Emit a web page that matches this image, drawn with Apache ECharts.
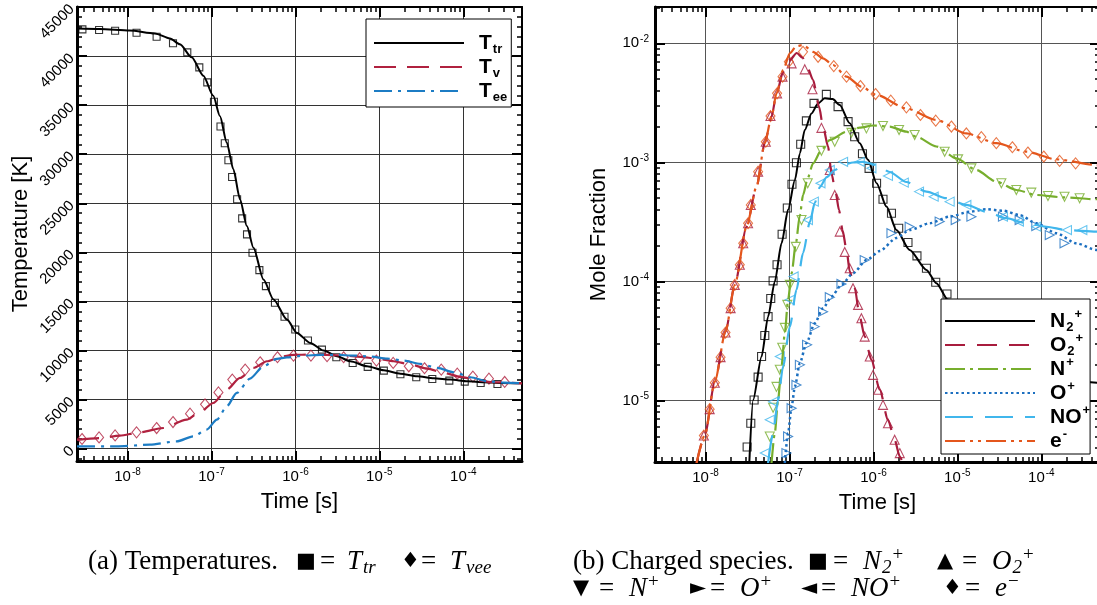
<!DOCTYPE html>
<html><head><meta charset="utf-8">
<script src="https://cdn.jsdelivr.net/npm/echarts@6/dist/echarts.min.js"></script>
<style>html,body{margin:0;padding:0;background:#fff;overflow:hidden}#c{width:1097px;height:605px}</style>
</head><body><div id="c"></div>
<script>
// ---------- data: left panel (temperatures) [time s, K] ----------
const timeRange = [2.5e-9, 5e-4];
const tempRange = [-1250, 45000];
const fracRange = [3.04e-6, 2.02e-2];
const timeTicks = [1e-8, 1e-7, 1e-6, 1e-5, 1e-4];
const tempTicks = [0, 5000, 10000, 15000, 20000, 25000, 30000, 35000, 40000, 45000];
const fracTicks = [1e-5, 1e-4, 1e-3, 1e-2];

const Ttr_line = [[2.5e-9,42800],[4.67e-9,42750],[1.06e-8,42600],[2.12e-8,42300],[3.20e-8,41800],[4.21e-8,41200],[5.81e-8,39870],[8.00e-8,38000],[1.05e-7,35950],[1.26e-7,33900],[1.52e-7,31190],[1.82e-7,28470],[2.19e-7,25400],[2.64e-7,22680],[3.16e-7,20480],[4.16e-7,17240],[5.48e-7,15200],[7.93e-7,13160],[1.04e-6,11800],[1.50e-6,10780],[2.17e-6,10000],[3.13e-6,9420],[4.51e-6,8910],[7.14e-6,8400],[1.13e-5,7990],[1.78e-5,7650],[2.82e-5,7380],[4.46e-5,7170],[7.05e-5,7040],[1.12e-4,6870],[1.76e-4,6770],[2.79e-4,6700],[5.0e-4,6660]];
const Tv_line = [[2.5e-9,900],[4.67e-9,1090],[8.09e-9,1330],[1.40e-8,1670],[2.66e-8,2110],[5.06e-8,2960],[7.29e-8,3740],[1.05e-7,4660],[1.52e-7,6020],[2.19e-7,7210],[3.16e-7,8230],[4.57e-7,8910],[6.59e-7,9360],[9.48e-7,9560],[1.50e-6,9590],[2.38e-6,9560],[3.75e-6,9490],[5.94e-6,9360],[9.40e-6,9180],[1.48e-5,8910],[2.35e-5,8570],[3.72e-5,8160],[5.86e-5,7720],[9.29e-5,7320],[1.47e-4,6970],[2.32e-4,6770],[5.0e-4,6660]];
const Tee_line = [[2.5e-9,235],[7.40e-9,235],[1.85e-8,410],[3.85e-8,750],[6.07e-8,1260],[8.77e-8,1940],[1.16e-7,2960],[1.52e-7,4320],[2.00e-7,5680],[2.88e-7,7150],[4.16e-7,8400],[6.01e-7,9150],[7.93e-7,9300],[1.25e-6,9490],[1.98e-6,9560],[3.13e-6,9560],[4.94e-6,9490],[7.82e-6,9390],[1.24e-5,9180],[1.95e-5,8980],[3.09e-5,8640],[4.90e-5,8230],[7.73e-5,7790],[1.22e-4,7280],[1.94e-4,6870],[3.05e-4,6730],[5.0e-4,6660]];
const Ttr_marks = [[2.90e-9,42720],[4.58e-9,42650],[7.11e-9,42580],[1.28e-8,42380],[2.22e-8,41970],[3.48e-8,41300],[5.15e-8,40380],[7.16e-8,38850],[8.91e-8,37320],[1.07e-7,35340],[1.28e-7,32830],[1.44e-7,31120],[1.59e-7,29390],[1.76e-7,27680],[2.02e-7,25410],[2.32e-7,23470],[2.65e-7,21840],[3.08e-7,19970],[3.72e-7,18190],[4.45e-7,16560],[5.70e-7,14870],[7.41e-7,13440],[9.95e-7,12140],[1.41e-6,11020],[2.07e-6,10100],[3.07e-6,9320],[4.81e-6,8740],[7.26e-6,8340],[1.13e-5,7960],[1.78e-5,7580],[2.75e-5,7280],[4.27e-5,7110],[6.81e-5,6940],[1.04e-4,6840],[1.61e-4,6700],[2.55e-4,6600]];
const Tv_marks = [[2.87e-9,990],[4.58e-9,1150],[7.11e-9,1360],[1.28e-8,1670],[2.22e-8,2110],[3.48e-8,2720],[5.55e-8,3570],[8.38e-8,4520],[1.21e-7,5740],[1.77e-7,7040],[2.52e-7,8060],[3.80e-7,8810],[6.11e-7,9320],[9.48e-7,9490],[1.53e-6,9490],[2.38e-6,9420],[3.75e-6,9320],[5.82e-6,9220],[9.23e-6,8980],[1.46e-5,8740],[2.24e-5,8400],[3.45e-5,8200],[5.46e-5,8060],[8.47e-5,7650],[1.30e-4,7350],[2.02e-4,7140],[3.11e-4,6800]];

// ---------- data: right panel (charged species) [time s, mole fraction] ----------
const N2p_line = [[3.32e-8,2.98e-6],[3.69e-8,1.01e-5],[4.65e-8,2.34e-5],[5.56e-8,5.06e-5],[6.68e-8,9.95e-5],[8.04e-8,2.09e-4],[9.62e-8,4.0e-4],[1.16e-7,7.11e-4],[1.33e-7,1.19e-3],[1.52e-7,1.87e-3],[1.83e-7,2.58e-3],[2.19e-7,3.13e-3],[2.63e-7,3.45e-3],[3.27e-7,3.40e-3],[3.97e-7,3.03e-3],[5.22e-7,2.13e-3],[6.87e-7,1.45e-3],[8.63e-7,1.05e-3],[1.09e-6,6.68e-4],[1.43e-6,4.25e-4],[1.88e-6,2.70e-4],[2.70e-6,1.84e-4],[4.28e-6,1.25e-4],[5.62e-6,9.66e-5],[7.73e-6,7.00e-5],[1.84e-5,3.56e-5],[4.20e-5,2.32e-5],[9.55e-5,1.74e-5],[2.17e-4,1.46e-5],[5.0e-4,1.4e-5]];
const O2p_line = [[7.82e-9,2.98e-6],[9.82e-9,5.14e-6],[1.29e-8,1.44e-5],[1.73e-8,3.79e-5],[2.23e-8,9.35e-5],[3.08e-8,2.88e-4],[4.05e-8,6.25e-4],[5.08e-8,1.45e-3],[6.11e-8,2.42e-3],[7.00e-8,3.75e-3],[8.39e-8,5.74e-3],[1.01e-7,7.24e-3],[1.22e-7,8.30e-3],[1.44e-7,7.53e-3],[1.65e-7,6.21e-3],[1.91e-7,4.92e-3],[2.25e-7,2.94e-3],[2.51e-7,2.00e-3],[2.88e-7,1.36e-3],[3.16e-7,8.09e-4],[3.56e-7,5.51e-4],[3.89e-7,3.98e-4],[4.28e-7,2.70e-4],[4.78e-7,1.84e-4],[5.22e-7,1.21e-4],[5.98e-7,8.81e-5],[6.87e-7,5.06e-5],[7.87e-7,3.44e-5],[9.46e-7,2.19e-5],[1.19e-6,1.23e-5],[1.49e-6,6.87e-6],[1.79e-6,4.67e-6],[2.06e-6,3.38e-6],[2.23e-6,2.99e-6]];
const Np_line = [[6.11e-8,2.98e-6],[6.68e-8,5.31e-6],[7.31e-8,1.01e-5],[8.04e-8,1.93e-5],[8.79e-8,3.67e-5],[9.62e-8,7.00e-5],[1.06e-7,1.17e-4],[1.19e-7,2.09e-4],[1.33e-7,3.61e-4],[1.45e-7,5.32e-4],[1.65e-7,7.40e-4],[1.91e-7,9.82e-4],[2.40e-7,1.27e-3],[3.02e-7,1.54e-3],[4.78e-7,1.81e-3],[6.87e-7,1.96e-3],[9.89e-7,2.04e-3],[1.56e-6,2.00e-3],[2.47e-6,1.81e-3],[3.25e-6,1.64e-3],[5.62e-6,1.36e-3],[9.73e-6,1.08e-3],[1.68e-5,8.63e-4],[2.91e-5,6.89e-4],[5.04e-5,5.86e-4],[8.71e-5,5.32e-4],[1.81e-4,5.09e-4],[4.52e-4,4.90e-4],[5.0e-4,4.9e-4]];
const Op_line = [[8.79e-8,2.98e-6],[9.62e-8,5.31e-6],[1.06e-7,8.89e-6],[1.16e-7,1.31e-5],[1.33e-7,2.06e-5],[1.59e-7,3.03e-5],[2.00e-7,4.46e-5],[2.51e-7,5.96e-5],[3.16e-7,7.45e-5],[4.16e-7,9.35e-5],[5.71e-7,1.17e-4],[8.26e-7,1.51e-4],[1.19e-6,1.80e-4],[1.88e-6,2.32e-4],[2.70e-6,2.70e-4],[4.68e-6,3.08e-4],[8.09e-6,3.50e-4],[1.40e-5,3.85e-4],[2.21e-5,4.04e-4],[3.49e-5,3.93e-4],[5.52e-5,3.61e-4],[8.71e-5,3.08e-4],[1.51e-4,2.54e-4],[2.61e-4,2.09e-4],[4.52e-4,1.84e-4],[5.0e-4,1.8e-4]];
const NOp_line = [[5.56e-8,2.98e-6],[6.38e-8,5.31e-6],[7.31e-8,1.01e-5],[8.39e-8,1.93e-5],[1.01e-7,4.17e-5],[1.21e-7,8.49e-5],[1.45e-7,1.73e-4],[1.75e-7,3.16e-4],[2.00e-7,4.56e-4],[2.30e-7,6.21e-4],[2.78e-7,7.53e-4],[3.46e-7,8.63e-4],[4.35e-7,9.51e-4],[5.71e-7,9.98e-4],[7.52e-7,1.01e-3],[1.09e-6,9.51e-4],[1.56e-6,8.30e-4],[2.47e-6,6.84e-4],[4.28e-6,5.68e-4],[7.40e-6,5.00e-4],[1.28e-5,4.39e-4],[2.21e-5,3.85e-4],[3.83e-5,3.40e-4],[6.62e-5,3.08e-4],[1.15e-4,2.88e-4],[1.99e-4,2.70e-4],[4.52e-4,2.62e-4],[5.0e-4,2.6e-4]];
const em_line = [[7.82e-9,2.98e-6],[9.82e-9,5.14e-6],[1.29e-8,1.44e-5],[1.73e-8,3.79e-5],[2.23e-8,9.35e-5],[3.08e-8,2.88e-4],[4.05e-8,6.25e-4],[5.08e-8,1.45e-3],[6.11e-8,2.42e-3],[7.00e-8,3.80e-3],[8.39e-8,5.97e-3],[1.01e-7,8.24e-3],[1.21e-7,9.48e-3],[1.45e-7,9.68e-3],[1.91e-7,8.49e-3],[2.51e-7,7.48e-3],[3.30e-7,6.58e-3],[4.78e-7,5.25e-3],[7.19e-7,4.33e-3],[1.09e-6,3.68e-3],[2.47e-6,2.84e-3],[5.62e-6,2.27e-3],[1.28e-5,1.75e-3],[2.91e-5,1.45e-3],[6.62e-5,1.23e-3],[1.51e-4,1.06e-3],[4.52e-4,9.5e-4],[5.0e-4,9.4e-4]];

const N2p_marks = [[3.13e-8,4.06e-6],[3.46e-8,6.44e-6],[3.79e-8,1.01e-5],[4.23e-8,1.57e-5],[4.65e-8,2.34e-5],[5.08e-8,3.51e-5],[5.56e-8,5.06e-5],[5.98e-8,7.18e-5],[6.38e-8,1.01e-4],[7.11e-8,1.38e-4],[8.17e-8,2.49e-4],[9.42e-8,4.14e-4],[1.07e-7,6.55e-4],[1.21e-7,9.93e-4],[1.36e-7,1.42e-3],[1.59e-7,2.23e-3],[1.96e-7,3.13e-3],[2.75e-7,3.73e-3],[3.79e-7,2.94e-3],[4.99e-7,2.20e-3],[5.98e-7,1.64e-3],[7.40e-7,1.18e-3],[8.87e-7,8.91e-4],[1.09e-6,6.68e-4],[1.30e-6,4.90e-4],[1.64e-6,3.74e-4],[2.00e-6,2.80e-4],[2.58e-6,2.12e-4],[3.30e-6,1.64e-4],[4.28e-6,1.29e-4],[5.52e-6,9.84e-5],[7.52e-6,7.85e-5]];
const O2p_marks = [[9.55e-9,5.07e-6],[1.12e-8,8.45e-6],[1.29e-8,1.41e-5],[1.51e-8,2.31e-5],[1.73e-8,3.72e-5],[1.99e-8,5.96e-5],[2.23e-8,9.35e-5],[2.56e-8,1.38e-4],[2.81e-8,2.09e-4],[3.21e-8,3.08e-4],[3.46e-8,4.39e-4],[4.23e-8,8.36e-4],[5.22e-8,1.49e-3],[5.94e-8,2.45e-3],[7.11e-8,3.80e-3],[8.26e-8,5.25e-3],[1.06e-7,6.79e-3],[1.52e-7,6.05e-3],[1.88e-7,4.11e-3],[2.40e-7,1.95e-3],[3.02e-7,8.63e-4],[3.46e-7,5.32e-4],[3.97e-7,2.62e-4],[4.55e-7,1.77e-4],[5.22e-7,1.29e-4],[5.71e-7,8.77e-5],[6.56e-7,6.35e-5],[7.19e-7,4.91e-5],[7.87e-7,3.44e-5],[9.04e-7,2.34e-5],[9.89e-7,1.64e-5],[1.14e-6,1.23e-5],[1.30e-6,9.18e-6],[1.49e-6,6.44e-6],[1.79e-6,4.67e-6],[2.06e-6,3.61e-6]];
const Np_marks = [[5.82e-8,4.98e-6],[6.38e-8,8.67e-6],[7.00e-8,1.30e-5],[7.67e-8,1.81e-5],[8.20e-8,2.77e-5],[8.79e-8,4.07e-5],[9.42e-8,6.35e-5],[1.01e-7,9.35e-5],[1.19e-7,1.95e-4],[1.39e-7,3.28e-4],[1.65e-7,6.68e-4],[2.40e-7,1.25e-3],[3.46e-7,1.49e-3],[5.47e-7,1.77e-3],[8.26e-7,1.93e-3],[1.30e-6,2.02e-3],[2.02e-6,1.87e-3],[3.10e-6,1.70e-3],[7.06e-6,1.23e-3],[1.02e-5,1.06e-3],[1.47e-5,8.91e-4],[3.34e-5,6.68e-4],[5.04e-5,5.86e-4],[7.60e-5,5.57e-4],[1.20e-4,5.22e-4],[1.89e-4,5.15e-4],[2.86e-4,5.00e-4]];
const Op_marks = [[9.20e-8,3.61e-6],[9.62e-8,4.98e-6],[1.06e-7,8.61e-6],[1.21e-7,1.35e-5],[1.33e-7,1.99e-5],[1.62e-7,2.93e-5],[2.00e-7,4.17e-5],[2.51e-7,5.57e-5],[3.02e-7,7.36e-5],[4.16e-7,9.53e-5],[7.87e-7,1.51e-4],[1.64e-6,2.54e-4],[2.70e-6,2.88e-4],[6.15e-6,3.18e-4],[9.55e-6,3.28e-4],[1.47e-5,3.50e-4],[3.49e-5,3.50e-4],[5.52e-5,3.28e-4],[8.71e-5,2.92e-4],[1.26e-4,2.45e-4],[1.89e-4,2.09e-4]];
const NOp_marks = [[5.08e-8,3.61e-6],[5.82e-8,6.87e-6],[6.38e-8,9.73e-6],[7.67e-8,2.34e-5],[1.01e-7,7.00e-5],[1.12e-7,1.10e-4],[1.66e-7,3.28e-4],[1.95e-7,4.68e-4],[2.34e-7,6.68e-4],[3.02e-7,8.63e-4],[4.35e-7,1.01e-3],[6.87e-7,1.01e-3],[9.46e-7,8.91e-4],[1.49e-6,7.69e-4],[2.30e-6,6.76e-4],[3.49e-6,5.68e-4],[5.22e-6,5.15e-4],[8.09e-6,4.68e-4],[1.28e-5,4.39e-4],[3.49e-5,3.50e-4],[5.41e-5,3.18e-4],[8.71e-5,2.88e-4],[2.02e-4,2.70e-4],[3.08e-4,2.70e-4]];
const em_marks = [[9.55e-9,5.07e-6],[1.12e-8,8.45e-6],[1.29e-8,1.41e-5],[1.51e-8,2.31e-5],[1.73e-8,3.72e-5],[1.99e-8,5.96e-5],[2.23e-8,9.35e-5],[2.56e-8,1.38e-4],[2.81e-8,2.09e-4],[3.21e-8,3.08e-4],[3.46e-8,4.39e-4],[4.23e-8,8.36e-4],[5.22e-8,1.49e-3],[5.94e-8,2.45e-3],[7.11e-8,3.80e-3],[8.26e-8,5.25e-3],[9.82e-8,7.01e-3],[1.45e-7,8.49e-3],[2.19e-7,7.71e-3],[3.37e-7,6.44e-3],[4.78e-7,5.25e-3],[7.00e-7,4.38e-3],[1.06e-6,3.75e-3],[1.61e-6,3.30e-3],[2.47e-6,2.90e-3],[3.63e-6,2.50e-3],[5.52e-6,2.24e-3],[8.49e-6,2.00e-3],[1.28e-5,1.75e-3],[1.93e-5,1.63e-3],[2.91e-5,1.45e-3],[4.52e-5,1.34e-3],[6.92e-5,1.21e-3],[1.07e-4,1.12e-3],[1.65e-4,1.03e-3],[2.56e-4,9.82e-4]];

// ---------- tick helpers ----------
function logMinors(range) {
  const out = [];
  for (let e = -10; e <= 0; e++) for (let k = 2; k <= 9; k++) {
    const v = k * Math.pow(10, e);
    if (v > range[0] && v < range[1]) out.push(v);
  }
  return out;
}
function linMinors(range, step, major) {
  const out = [];
  for (let v = Math.ceil(range[0] / step) * step; v <= range[1]; v += step) if (v % major !== 0) out.push(v);
  return out;
}
const FONT = 'Liberation Sans';
const powFmt = v => '{b|10}{s|' + Math.round(Math.log10(v)) + '}';
const powRich = {
  b: {fontFamily: FONT, fontSize: 15, color: '#000'},
  s: {fontFamily: FONT, fontSize: 10, color: '#000', padding: [0, 0, 9, 1]}
};
const nameStyle = {fontFamily: FONT, fontSize: 22, color: '#000'};

function buildAxes(gridIndex, o) {
  const common = {type: o.type, gridIndex: gridIndex, min: o.min, max: o.max, silent: true};
  if (o.type === 'log') common.logBase = 10;
  const mk = extra => Object.assign({}, common, {
    axisLine: {show: false, onZero: false}, axisLabel: {show: false},
    splitLine: {show: false}, axisTick: {show: false}, minorTick: {show: false}
  }, extra);
  return [
    mk({position: o.pos[0],
      axisLine: {show: true, onZero: false, lineStyle: {color: '#000', width: 3}},
      axisTick: {show: true, inside: true, length: 10, customValues: o.majors, lineStyle: {color: '#000', width: 2}},
      axisLabel: Object.assign({show: true, customValues: o.majors, formatter: o.fmt, margin: o.margin,
        rotate: o.rotate || 0, color: '#000', fontFamily: FONT, fontSize: 15}, o.rich ? {rich: o.rich} : {}),
      splitLine: {show: true, lineStyle: {color: o.gridColor, width: 1}},
      name: o.name, nameLocation: 'middle', nameGap: o.nameGap, nameTextStyle: nameStyle}),
    mk({position: o.pos[0],
      axisTick: {show: true, inside: true, length: 5, customValues: o.minors, lineStyle: {color: '#000', width: 1.5}}}),
    mk({position: o.pos[1],
      axisLine: {show: true, onZero: false, lineStyle: {color: '#000', width: 2}},
      axisTick: {show: true, inside: true, length: 10, customValues: o.majors, lineStyle: {color: '#000', width: 2}}}),
    mk({position: o.pos[1],
      axisTick: {show: true, inside: true, length: 5, customValues: o.minors, lineStyle: {color: '#000', width: 1.5}}})
  ];
}

const xAxes = [].concat(
  buildAxes(0, {type: 'log', min: timeRange[0], max: timeRange[1], pos: ['bottom', 'top'], majors: timeTicks,
    minors: logMinors(timeRange), fmt: powFmt, rich: powRich, margin: 6, gridColor: '#333', name: 'Time [s]', nameGap: 30}),
  buildAxes(1, {type: 'log', min: timeRange[0], max: timeRange[1], pos: ['bottom', 'top'], majors: timeTicks,
    minors: logMinors(timeRange), fmt: powFmt, rich: powRich, margin: 6, gridColor: '#555', name: 'Time [s]', nameGap: 30})
);
const yAxes = [].concat(
  buildAxes(0, {type: 'value', min: tempRange[0], max: tempRange[1], pos: ['left', 'right'], majors: tempTicks,
    minors: linMinors(tempRange, 1000, 5000), fmt: v => String(v), margin: 5, rotate: 45, gridColor: '#333',
    name: 'Temperature [K]', nameGap: 45}),
  buildAxes(1, {type: 'log', min: fracRange[0], max: fracRange[1], pos: ['left', 'right'], majors: fracTicks,
    minors: logMinors(fracRange), fmt: powFmt, rich: powRich, margin: 6, gridColor: '#555',
    name: 'Mole Fraction', nameGap: 45})
);

// ---------- series ----------
function lineS(name, grid, data, color, type, width) {
  return {type: 'line', name: name, xAxisIndex: grid * 4, yAxisIndex: grid * 4, data: data, symbol: 'none',
    smooth: 0.25, smoothMonotone: 'x', clip: true, z: 3,
    itemStyle: {color: color}, lineStyle: {color: color, width: width || 2, type: type || 'solid'}};
}
function markS(grid, data, color, symbol, size, rotate) {
  return {type: 'scatter', xAxisIndex: grid * 4, yAxisIndex: grid * 4, data: data, symbol: symbol,
    symbolSize: size, symbolRotate: rotate || 0, clip: true, z: 2,
    itemStyle: {color: 'rgba(0,0,0,0)', borderColor: color, borderWidth: 1.1}};
}
const C = {tr: '#000', v: '#b0213f', ee: '#1c7cc4', o2: '#a81c3d', n: '#77ae2d', o: '#1b6fc0', no: '#40b6ec', e: '#e4561c'};

const series = [
  lineS('T_tr', 0, Ttr_line, C.tr, 'solid', 2),
  lineS('T_v', 0, Tv_line, C.v, [22, 11], 2.2),
  lineS('T_ee', 0, Tee_line, C.ee, [18, 6, 3, 6], 2.2),
  markS(0, Ttr_marks, C.tr, 'rect', 7),
  markS(0, Tv_marks, C.v, 'diamond', [9, 11]),
  lineS('N2+', 1, N2p_line, '#000', 'solid', 2),
  lineS('O2+', 1, O2p_line, C.o2, [20, 12], 2.2),
  lineS('N+', 1, Np_line, C.n, [20, 5, 3, 5], 2.2),
  lineS('O+', 1, Op_line, C.o, [2.5, 3], 2.5),
  lineS('NO+', 1, NOp_line, C.no, [28, 12], 2.2),
  lineS('e-', 1, em_line, C.e, [20, 5, 3, 5, 3, 5], 2.2),
  markS(1, N2p_marks, '#000', 'rect', 8),
  markS(1, O2p_marks, C.o2, 'triangle', 9),
  markS(1, Np_marks, C.n, 'triangle', 9, 180),
  markS(1, Op_marks, C.o, 'triangle', 9, -90),
  markS(1, NOp_marks, C.no, 'triangle', 9, 90),
  markS(1, em_marks, C.e, 'diamond', [9, 11])
];

// ---------- legends ----------
const legendNames = {
  'T_tr': '{b|T}{sub|tr}', 'T_v': '{b|T}{sub|v}', 'T_ee': '{b|T}{sub|ee}',
  'N2+': '{b|N}{sub|2}{sup|+}', 'O2+': '{b|O}{sub|2}{sup|+}', 'N+': '{b|N}{sup|+}',
  'O+': '{b|O}{sup|+}', 'NO+': '{b|NO}{sup|+}', 'e-': '{b|e}{sup|-}'
};
const legRich = {
  b: {fontFamily: FONT, fontWeight: 'bold', fontSize: 21, color: '#000', lineHeight: 20},
  sub: {fontFamily: FONT, fontWeight: 'bold', fontSize: 13, color: '#000', lineHeight: 20, padding: [13, 0, 0, 1]},
  sup: {fontFamily: FONT, fontWeight: 'bold', fontSize: 13, color: '#000', lineHeight: 20, padding: [0, 0, 13, 1]}
};
function legend(names, left, top, padding, gap, textPad) {
  return {show: true, data: names, orient: 'vertical', left: left, top: top, itemWidth: 90, itemHeight: 14,
    itemGap: gap, padding: padding, backgroundColor: '#fff', borderColor: '#000', borderWidth: 1, borderRadius: 0,
    selectedMode: false, itemStyle: {opacity: 0}, formatter: n => legendNames[n],
    textStyle: {padding: [0, 0, 0, textPad], rich: legRich}};
}

// ---------- captions ----------
const capRich = {
  n: {fontFamily: 'Liberation Serif', fontSize: 27, color: '#000', lineHeight: 28},
  i: {fontFamily: 'Liberation Serif', fontStyle: 'italic', fontSize: 27, color: '#000', lineHeight: 28},
  s: {fontFamily: 'Liberation Serif', fontStyle: 'italic', fontSize: 19, color: '#000', lineHeight: 28, padding: [12, 0, 0, 1]},
  p: {fontFamily: 'Liberation Serif', fontSize: 19, color: '#000', lineHeight: 28, padding: [0, 0, 14, 1]},
  g: {fontFamily: 'DejaVu Sans', fontSize: 21, color: '#000', lineHeight: 28}
};
// caption pieces: [x, y, rich text]
const captionParts = [
  [88, 562, '{n|(a) Temperatures.}'], [296, 562, '{g|■}'], [320, 562, '{n|=}'], [347, 562, '{i|T}{s|tr}'],
  [401, 562, '{g|♦}'], [421, 562, '{n|=}'], [450, 562, '{i|T}{s|vee}'],
  [573, 562, '{n|(b) Charged species.}'], [808, 562, '{g|■}'], [833, 562, '{n|=}'], [863, 562, '{i|N}{s|2}{p|+}'],
  [937, 562, '{g|▲}'], [962, 562, '{n|=}'], [992, 562, '{i|O}{s|2}{p|+}'],
  [573, 589, '{g|▼}'], [599, 589, '{n|=}'], [629, 589, '{i|N}{p|+}'],
  [690, 589, '{g|►}'], [710, 589, '{n|=}'], [740, 589, '{i|O}{p|+}'],
  [801, 589, '{g|◄}'], [821, 589, '{n|=}'], [851, 589, '{i|NO}{p|+}'],
  [943, 589, '{g|♦}'], [965, 589, '{n|=}'], [995, 589, '{i|e}{p|−}']
];

const chart = echarts.init(document.getElementById('c'), null, {renderer: 'canvas'});
chart.setOption({
  animation: false,
  backgroundColor: '#fff',
  grid: [
    {left: 77, top: 7, width: 445, height: 454, containLabel: false, outerBoundsMode: 'none'},
    {left: 655, top: 7, width: 445, height: 455, containLabel: false, outerBoundsMode: 'none'}
  ],
  xAxis: xAxes,
  yAxis: yAxes,
  legend: [
    legend(['T_tr', 'T_v', 'T_ee'], 366, 19, [11, 4, 3, 7], -2, 10),
    legend(['N2+', 'O2+', 'N+', 'O+', 'NO+', 'e-'], 941, 299, [9, 0, 0, 3], -2, 10)
  ],
  series: series,
  graphic: captionParts.map(p => ({type: 'text', x: p[0], y: p[1],
    style: {text: p[2], rich: capRich, verticalAlign: 'middle'}}))
});
</script></body></html>
